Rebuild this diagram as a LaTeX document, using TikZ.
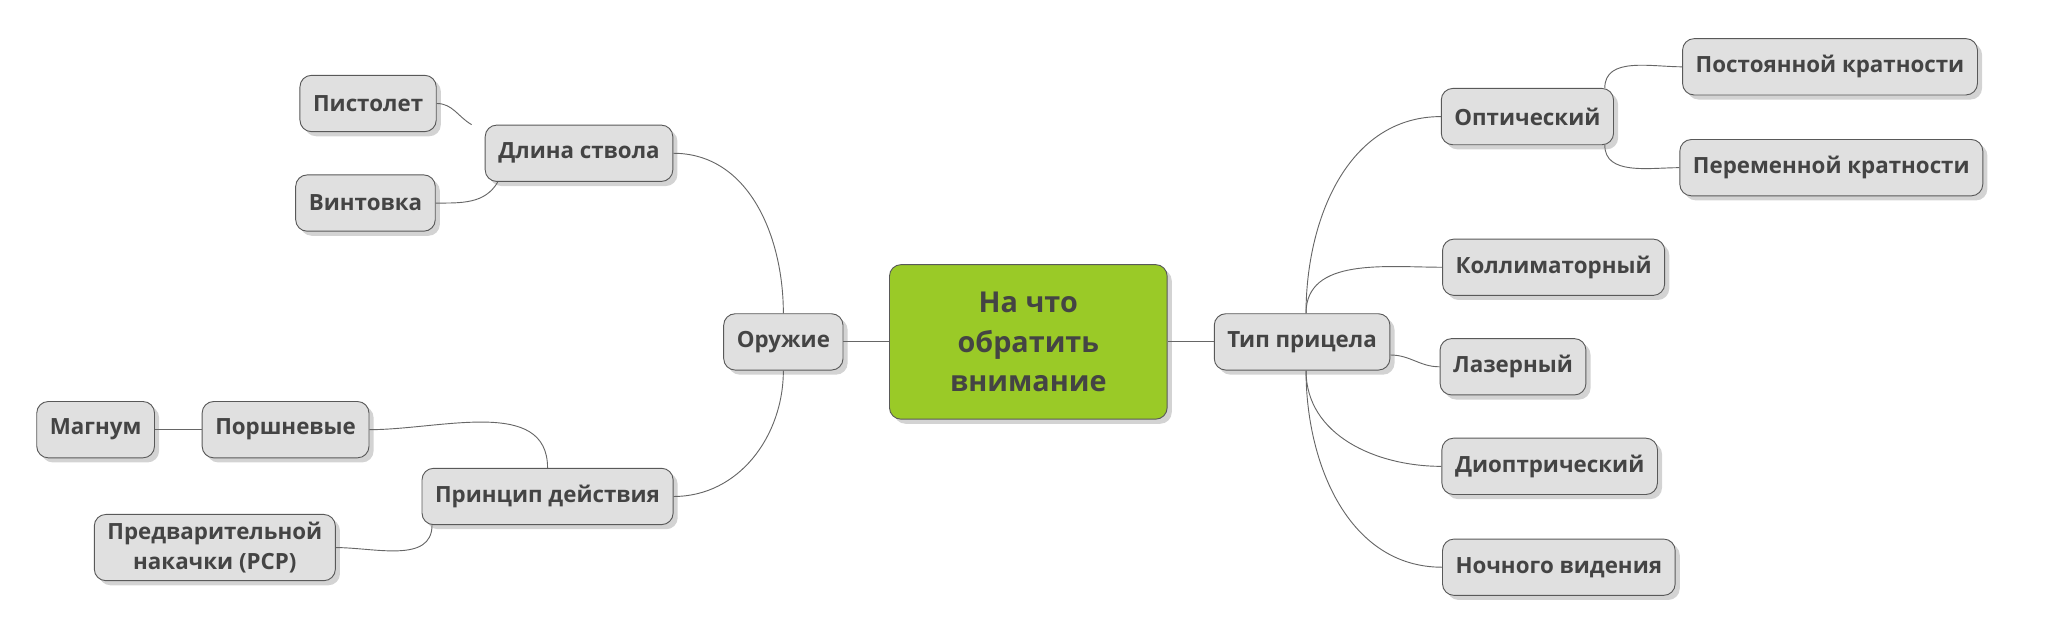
\documentclass[tikz,border=0pt]{standalone}
\usepackage{fontspec}
\setmainfont{Open Sans}
\usetikzlibrary{shadows}
\definecolor{txt}{HTML}{444444}
\definecolor{topic}{HTML}{9ACA27}
\tikzstyle{idea} = [draw=black!65, fill=black!12, rounded corners=5pt, minimum height=0.86cm, inner xsep=0.2cm, text=txt, font=\fontsize{9.7}{13}\selectfont\bfseries, drop shadow={opacity=0.35, shadow xshift=2pt, shadow yshift=-2pt}]
\tikzstyle{root} = [idea, fill=topic, minimum width=4.24cm, minimum height=2.36cm, align=center, font=\fontsize{12.5}{17}\selectfont\bfseries]
\tikzstyle{link} = [draw=black!60, thin]
\begin{document}
\begin{tikzpicture}[x=0.02cm, y=-0.02cm]
        \useasboundingbox (0,0) rectangle (1568,484);
        \node (main) [root] at (785,261) {На что\\обратить\\внимание};
        \node (weapon) [idea] at (598,261) {Оружие};
        \node (barrel) [idea] at (442,117) {Длина ствола};
        \node (pistol) [idea] at (281,79) {Пистолет};
        \node (rifle) [idea] at (279,155) {Винтовка};
        \node (action) [idea] at (418,379) {Принцип действия};
        \node (piston) [idea] at (218,328) {Поршневые};
        \node (magnum) [idea] at (73,328) {Магнум};
        \node (pcp) [idea, align=center] at (164,418) {Предварительной\\накачки (PCP)};
        \node (sight) [idea] at (994,261) {Тип прицела};
        \node (optic) [idea] at (1166,89) {Оптический};
        \node (fixed) [idea] at (1397,51) {Постоянной кратности};
        \node (vari) [idea] at (1398,128) {Переменной кратности};
        \node (collim) [idea] at (1186,204) {Коллиматорный};
        \node (laser) [idea] at (1155,280) {Лазерный};
        \node (diopt) [idea] at (1183,356) {Диоптрический};
        \node (night) [idea] at (1190,433) {Ночного видения};

        % left side
        \draw [link] (main) -- (weapon);
        \draw [link] (weapon.north) to[out=90, in=0] (barrel.east);
        \draw [link] (weapon.south) to[out=-90, in=0] (action.east);
        \draw [link] ([xshift=-0.2cm]barrel.north west) to[out=150, in=0] (pistol.east);
        \draw [link] ([xshift=0.2cm]barrel.south west) to[out=-120, in=0] (rifle.east);
        \draw [link] (action.north) to[out=90, in=0] (piston.east);
        \draw [link] (magnum) -- (piston);
        \draw [link] ([xshift=0.16cm]action.south west) to[out=-90, in=0] ([yshift=0.0cm]pcp.east);
        % right side
        \draw [link] (main) -- (sight);
        \draw [link] ([xshift=0.06cm]sight.north) to[out=90, in=180] (optic.west);
        \draw [link] ([xshift=0.06cm]sight.north) to[out=90, in=180] (collim.west);
        \draw [link] ([yshift=-0.2cm]sight.east) to[out=0, in=180] (laser.west);
        \draw [link] ([xshift=0.06cm]sight.south) to[out=-90, in=180] (diopt.west);
        \draw [link] ([xshift=0.06cm]sight.south) to[out=-90, in=180] (night.west);
        \draw [link] ([xshift=-0.14cm]optic.north east) to[out=90, in=180] (fixed.west);
        \draw [link] ([xshift=-0.14cm]optic.south east) to[out=-90, in=180] (vari.west);
    \end{tikzpicture}
\end{document}
